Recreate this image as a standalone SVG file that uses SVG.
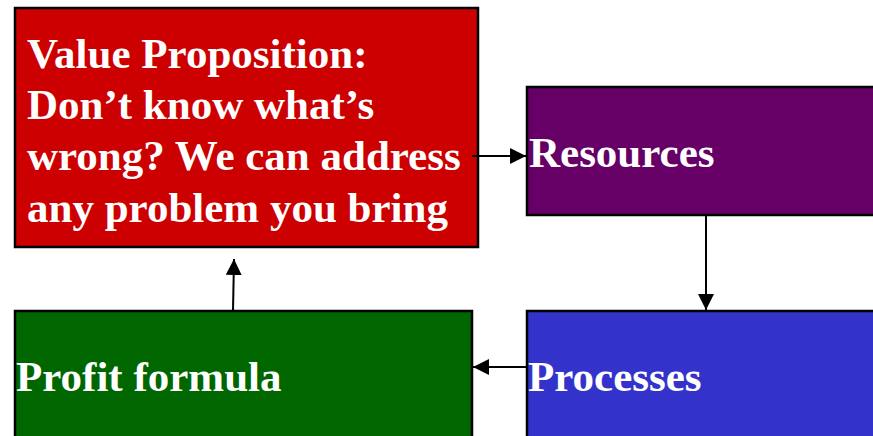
<svg xmlns="http://www.w3.org/2000/svg" width="873" height="436" viewBox="0 0 873 436">
<defs>
<style>
.box{stroke:#000;stroke-width:2.5}
.t{font-family:"Liberation Serif","Times New Roman",serif;font-weight:bold;font-size:43px;fill:#fff}
.c{stroke:#000;stroke-width:2;fill:none}
</style>
<marker id="ah" viewBox="0 0 16 16" refX="16" refY="8" markerWidth="16" markerHeight="16" markerUnits="userSpaceOnUse" orient="auto">
<path d="M0,0 L16,8 L0,16 Z" fill="#000"/>
</marker>
</defs>
<rect width="873" height="436" fill="#fff"/>
<g id="value-proposition">
<rect class="box" x="15" y="8" width="463" height="239" fill="#CC0000"/>
<text class="t"><tspan x="27" y="68">Value Proposition:</tspan><tspan x="27" y="119">Don’t know what’s</tspan><tspan x="27" y="170">wrong? We can address</tspan><tspan x="27" y="222">any problem you bring</tspan></text>
</g>
<g id="resources">
<rect class="box" x="527" y="87" width="350" height="128" fill="#660066"/>
<text class="t" x="529" y="167">Resources</text>
</g>
<g id="processes">
<rect class="box" x="527" y="311" width="350" height="130" fill="#3333CC"/>
<text class="t" x="528" y="391">Processes</text>
</g>
<g id="profit-formula">
<rect class="box" x="15" y="311" width="457" height="130" fill="#006600"/>
<text class="t" x="16" y="391">Profit formula</text>
</g>
<g id="connectors">
<line class="c" x1="472" y1="156" x2="526" y2="156" marker-end="url(#ah)"/>
<line class="c" x1="706" y1="216" x2="706" y2="310" marker-end="url(#ah)"/>
<line class="c" x1="526" y1="367" x2="473" y2="367" marker-end="url(#ah)"/>
<line class="c" x1="233" y1="311" x2="234" y2="259" marker-end="url(#ah)"/>
</g>
</svg>
